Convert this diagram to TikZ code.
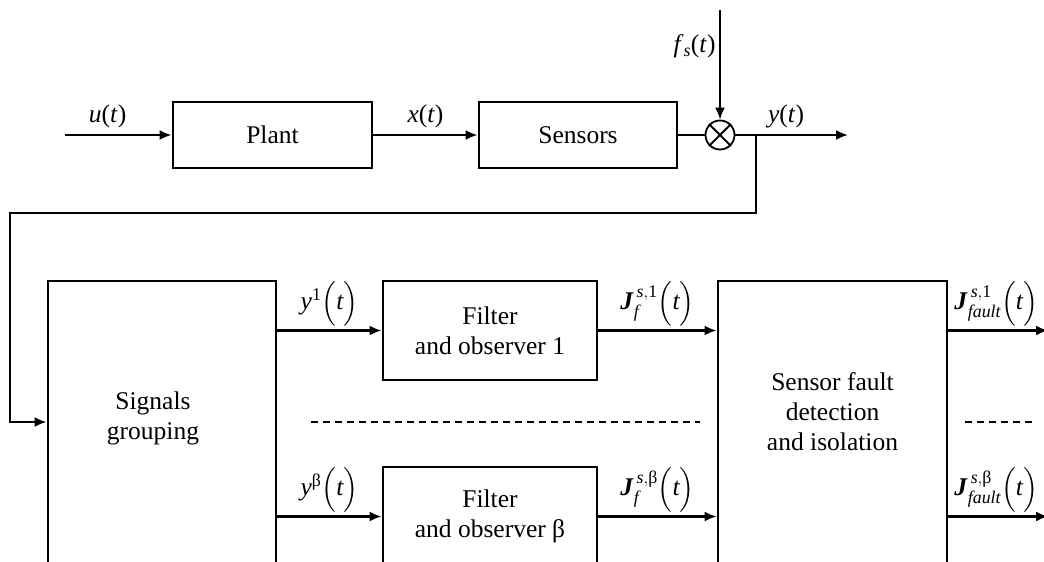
\documentclass[tikz,border=0pt]{standalone}
\usepackage{amsmath}
\usepackage{fontspec}
\setmainfont{Liberation Serif}
\usepackage{tikz}
\usetikzlibrary{shapes,arrows,arrows.meta}
\tikzstyle{line} = [draw, line width=2.2pt, -{Latex[length=12pt, width=10pt]}]
\tikzstyle{wire} = [draw, line width=2.2pt]
\tikzstyle{blk_top} = [rectangle, draw, line width=2.8pt, minimum width=199pt, minimum height=66pt, text centered, font=\fontsize{25.5}{30}\selectfont]
\tikzstyle{blk_filt} = [rectangle, draw, line width=2.8pt, minimum width=214pt, minimum height=99pt, align=center, font=\fontsize{25.5}{30}\selectfont]
\tikzstyle{blk_tall} = [rectangle, draw, line width=2.8pt, minimum width=228pt, minimum height=370pt]
\tikzstyle{mix} = [circle, draw, line width=1.8pt, minimum size=29pt, inner sep=0pt]
\tikzstyle{sig} = [align=center, font=\fontsize{25.5}{30}\selectfont]
\tikzstyle{dash_sep} = [draw, line width=1.3pt, dash pattern=on 7pt off 5pt]

\begin{document}
\begin{tikzpicture}[x=1pt, y=1pt]
			\useasboundingbox (0,0) rectangle (1044,-562);
			\clip (0,0) rectangle (1044,-562);

			% plant and sensors
			\node [blk_top] (plant) at (272.5,-135) {Plant};
			\node [blk_top, right of=plant, node distance=305.5pt, minimum width=198pt] (sensors) {Sensors};
			\node [mix, right of=sensors, node distance=142pt] (mix) {};
			\draw [line width=1.8pt] (mix.north west) -- (mix.south east) (mix.north east) -- (mix.south west);

			\coordinate [left of=plant, node distance=207.5pt] (u_in);
			\coordinate [above of=mix, node distance=125pt] (fs_in);
			\coordinate [right of=mix, node distance=128pt] (y_out);
			\coordinate [right of=mix, node distance=36pt] (tap);

			\path [line] (u_in) -- node [sig, above, pos=0.4, yshift=3pt] {\textit{u}(\textit{t})} (plant);
			\path [line] (plant) -- node [sig, above, yshift=3pt] {\textit{x}(\textit{t})} (sensors);
			\path [wire] (sensors) -- (mix);
			\path [line] (fs_in) -- node [sig, left, pos=0.33] {\textit{f}$_{\textit{s}}$(\textit{t})} (mix);
			\path [line] (mix) -- node [sig, above, pos=0.45, yshift=3pt] {\textit{y}(\textit{t})} (y_out);

			% detection part
			\node [blk_tall, below of=plant, node distance=331pt, xshift=-110.5pt] (signals) {};
			\node [sig] (signals_txt) at ([xshift=-9pt, yshift=-139pt]signals.north) {Signals\\grouping};
			\node [blk_filt, right of=signals, node distance=328pt, yshift=135.5pt] (filter1) {Filter\\and observer 1};
			\node [blk_filt, below of=filter1, node distance=186pt] (filterb) {Filter\\and observer β};
			\node [blk_tall, minimum width=229pt, right of=signals, node distance=670.5pt] (sfdi) {};
			\node [sig] (sfdi_txt) at ([yshift=-132pt]sfdi.north) {Sensor fault\\detection\\and isolation};

			\coordinate (fb_turn) at (10,-213);
			\coordinate (gap_l) at (311,-422);
			\coordinate (gap_r) at (700,-422);
			\coordinate (gap2_l) at (965,-422);
			\coordinate (gap2_r) at (1034,-422);
			\coordinate (sg_in) at (signals.west |- gap_l);
			\coordinate (out1) at (1048,0 |- filter1.east);
			\coordinate (outb) at (1048,0 |- filterb.east);

			\path [line] (tap) |- (fb_turn) |- (sg_in);

			\path [line] (filter1.west -| signals.east) -- node [sig, above] {$\textit{y}^{\text{1}}\Bigl(\textit{t}\Bigr)$} (filter1.west);
			\path [line] (filterb.west -| signals.east) -- node [sig, above] {$\textit{y}^{\text{β}}\Bigl(\textit{t}\Bigr)$} (filterb.west);
			\path [line] (filter1.east) -- node [sig, above] {$\textbf{\textit{J}}^{\,\textit{s},\text{1}}_{\textit{f}}\Bigl(\textit{t}\Bigr)$} (filter1.east -| sfdi.west);
			\path [line] (filterb.east) -- node [sig, above] {$\textbf{\textit{J}}^{\,\textit{s},\text{β}}_{\textit{f}}\Bigl(\textit{t}\Bigr)$} (filterb.east -| sfdi.west);
			\path [line] (filter1.east -| sfdi.east) -- node [sig, above, xshift=-2pt] {$\textbf{\textit{J}}^{\,\textit{s},\text{1}}_{\textit{fault}}\Bigl(\textit{t}\Bigr)$} (out1);
			\path [line] (filterb.east -| sfdi.east) -- node [sig, above, xshift=-2pt] {$\textbf{\textit{J}}^{\,\textit{s},\text{β}}_{\textit{fault}}\Bigl(\textit{t}\Bigr)$} (outb);

			\path [dash_sep] (gap_l) -- (gap_r);
			\path [dash_sep] (gap2_l) -- (gap2_r);
		\end{tikzpicture}
\end{document}
